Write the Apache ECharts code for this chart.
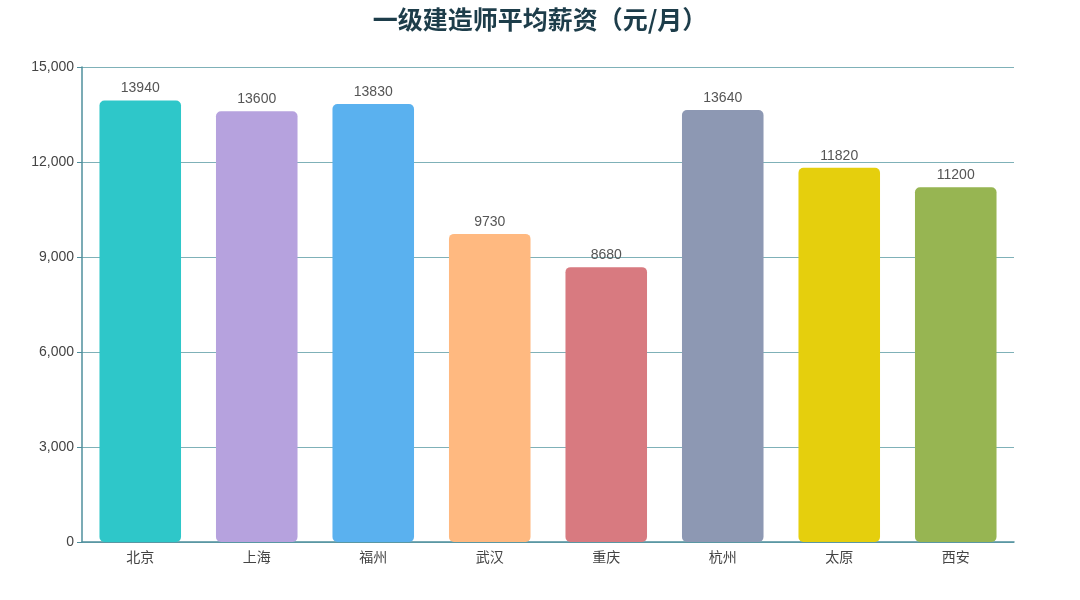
<!DOCTYPE html>
<html>
<head>
<meta charset="utf-8">
<script src="https://cdn.jsdelivr.net/npm/echarts@6/dist/echarts.min.js"></script>
<style>
  html, body { margin: 0; padding: 0; background: #fff; }
  #main { width: 1080px; height: 600px; }
</style>
</head>
<body>
<div id="main"></div>
<script>
// city names and monthly salary (yuan)
var cities = ['北京', '上海', '福州', '武汉', '重庆', '杭州', '太原', '西安'];
var salaries = [13940, 13600, 13830, 9730, 8680, 13640, 11820, 11200];
var barColors = ['#2ec7c9', '#b6a2de', '#5ab1ef', '#ffb980', '#d87a80', '#8d98b3', '#e5cf0d', '#97b552'];

var chart = echarts.init(document.getElementById('main'));

var option = {
  title: {
    text: '一级建造师平均薪资（元/月）',
    left: 'center',
    top: 2,
    textStyle: {
      color: '#1d3d4a',
      fontSize: 25,
      fontWeight: 'bold',
      fontFamily: 'Noto Sans CJK SC'
    }
  },
  grid: { left: 82, right: 66, top: 67, bottom: 58 },
  xAxis: {
    type: 'category',
    data: cities,
    axisLine: { lineStyle: { color: '#4f8f9c', width: 1.5 } },
    axisTick: { lineStyle: { color: '#4f8f9c' } },
    axisLabel: { color: '#444', fontSize: 14, margin: 8, fontFamily: 'Noto Sans CJK SC' }
  },
  yAxis: {
    type: 'value',
    min: 0,
    max: 15000,
    interval: 3000,
    axisLine: { show: true, lineStyle: { color: '#4f8f9c', width: 1.5 } },
    axisTick: { show: true, lineStyle: { color: '#4f8f9c' } },
    axisLabel: {
      color: '#444', fontSize: 14, fontFamily: 'Liberation Sans',
      formatter: function (v) { return v.toLocaleString('en-US'); }
    },
    splitLine: { lineStyle: { color: '#7fb1b8' } }
  },
  series: [{
    type: 'bar',
    barWidth: '70%',
    data: salaries.map(function (v, i) {
      return { value: v, itemStyle: { color: barColors[i] } };
    }),
    itemStyle: { borderRadius: 5 },
    label: {
      show: true,
      position: 'top',
      color: '#555',
      fontSize: 14,
      fontFamily: 'Liberation Sans'
    }
  }]
};

chart.setOption(option);
</script>
</body>
</html>
